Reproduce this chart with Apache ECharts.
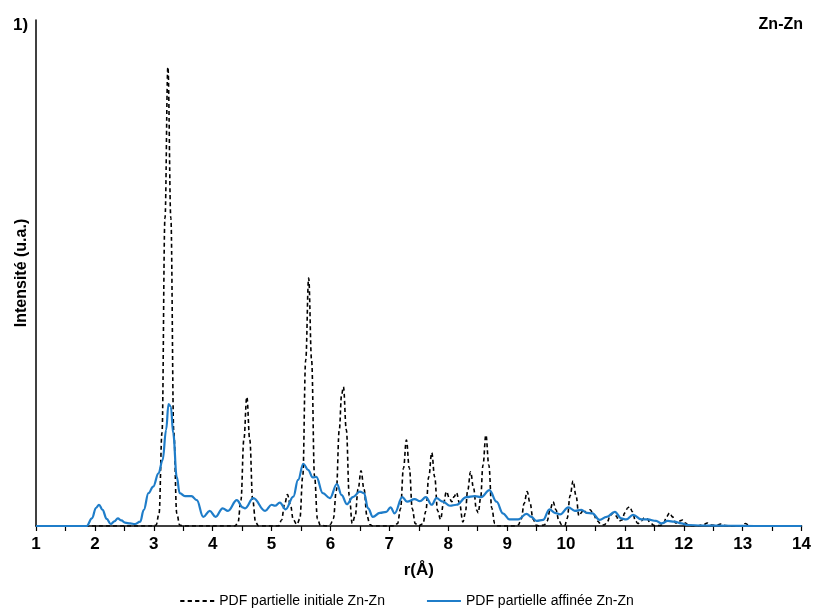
<!DOCTYPE html>
<html><head><meta charset="utf-8">
<script src="https://cdn.jsdelivr.net/npm/echarts@6/dist/echarts.min.js"></script>
<style>html,body{margin:0;padding:0;background:#fff}#c{width:814px;height:614px}</style>
</head><body><div id="c"></div>
<script>
// r (Å) ticks
const xTicks = [1,2,3,4,5,6,7,8,9,10,11,12,13,14];
// PDF partielle initiale Zn-Zn : [r, intensité]
const initialCurve = [
[1,0],[3.0,0],[3.04,0.2],[3.09,2.5],[3.14,18.5],[3.19,60.8],[3.24,90.7],[3.29,60.8],[3.34,18.5],[3.39,2.5],[3.44,0.2],[3.5,0],
[4.38,0],[4.43,0.7],[4.48,5.1],[4.53,17.1],[4.58,25.5],[4.63,17.1],[4.68,5.1],[4.73,0.7],[4.78,0],
[5.12,0],[5.17,1.2],[5.22,4.2],[5.27,6.2],[5.32,4.2],[5.37,1.2],[5.43,0.3],[5.48,1.4],[5.53,9.8],[5.58,32.8],[5.63,49.0],[5.68,32.8],[5.73,9.8],[5.78,1.4],[5.83,0.1],[5.95,0],
[6.0,0.3],[6.05,1.5],[6.1,7.0],[6.15,19.0],[6.19,26.0],[6.22,27.5],[6.27,19.0],[6.32,6.0],[6.37,0.5],[6.42,2.0],[6.47,7.3],[6.52,10.9],[6.57,7.3],[6.62,2.0],[6.67,0.3],[6.72,0],
[7.09,0],[7.14,0.5],[7.19,3.4],[7.24,11.4],[7.29,17.0],[7.34,11.4],[7.39,3.4],[7.44,0.5],[7.49,0],
[7.57,0.4],[7.62,2.9],[7.67,9.7],[7.72,14.5],[7.77,9.7],[7.82,3.0],[7.87,1.3],[7.92,4.5],[7.97,6.8],[8.02,5.5],[8.06,4.8],[8.1,5.8],[8.14,6.6],[8.19,4.6],[8.25,0.8],[8.29,2.5],[8.33,7.0],[8.38,10.7],[8.43,7.5],[8.48,3.2],[8.51,2.6],[8.55,5.5],[8.59,12.0],[8.64,18.0],[8.69,12.0],[8.74,3.5],[8.79,0.5],[8.84,0],
[9.14,0],[9.19,0.2],[9.24,1.4],[9.29,4.5],[9.34,6.8],[9.39,4.5],[9.44,1.4],[9.49,0.2],[9.54,0],
[9.63,0.2],[9.68,1.0],[9.73,3.2],[9.78,4.8],[9.83,3.2],[9.88,1.0],[9.93,0.2],[9.98,0.1],[10.02,1.5],[10.07,6.0],[10.12,8.9],[10.17,6.0],[10.22,2.0],[10.26,2.6],[10.29,3.2],[10.35,2.6],[10.41,3.2],[10.47,2.2],[10.53,1.0],[10.6,0.3],[10.65,0.2],[10.7,0.8],[10.75,2.0],[10.8,2.6],[10.85,2.0],[10.9,1.0],[10.95,1.2],[11.0,2.6],[11.05,3.6],[11.08,3.8],[11.13,2.8],[11.18,1.0],[11.22,0.5],[11.28,1.0],[11.33,1.6],[11.38,1.4],[11.43,0.6],[11.5,0.1],[11.6,0.1],[11.66,0.6],[11.71,1.9],[11.76,2.6],[11.81,1.8],[11.86,0.6],[11.9,0.6],[11.95,1.1],[11.98,1.2],[12.03,0.6],[12.08,0.1],[12.2,0],[12.33,0.2],[12.4,0.6],[12.46,0.2],[12.55,0.1],[12.63,0.4],[12.7,0.1],[12.8,0],[12.98,0],[13.05,0.5],[13.12,0],[14,0]
];
// PDF partielle affinée Zn-Zn : [r, intensité]
const refinedCurve = [
[1,0],[1.86,0],[1.95,1.5],[2.02,3.6],[2.07,4.2],[2.13,3.2],[2.2,1.4],[2.27,0.4],[2.33,0.9],[2.39,1.5],[2.45,1.1],[2.51,0.65],[2.6,0.5],[2.68,0.4],[2.77,0.85],[2.83,3.2],[2.91,6.5],[2.99,7.8],[3.08,10.4],[3.15,13.0],[3.21,19.0],[3.25,24.1],[3.29,23.6],[3.33,18.3],[3.39,9.7],[3.44,6.5],[3.53,5.9],[3.64,5.9],[3.73,5.1],[3.84,1.8],[3.95,3.0],[4.05,1.8],[4.17,3.5],[4.26,3.0],[4.41,5.1],[4.51,3.7],[4.55,3.5],[4.69,5.5],[4.89,3.0],[5.0,4.2],[5.06,4.0],[5.14,4.6],[5.24,3.3],[5.37,5.8],[5.45,9.1],[5.54,12.3],[5.62,11.1],[5.7,9.6],[5.76,9.7],[5.87,6.5],[5.99,5.5],[6.11,8.3],[6.19,6.1],[6.28,4.3],[6.38,5.7],[6.5,6.8],[6.57,6.5],[6.64,3.5],[6.72,1.8],[6.84,2.6],[6.95,2.8],[7.02,3.7],[7.09,2.5],[7.22,5.7],[7.3,4.8],[7.43,5.3],[7.52,4.9],[7.62,5.7],[7.72,4.2],[7.8,5.5],[7.91,4.8],[8.03,4.0],[8.14,4.2],[8.31,5.7],[8.45,5.9],[8.56,5.7],[8.7,7.1],[8.82,4.8],[8.93,2.5],[9.04,1.3],[9.19,1.3],[9.33,2.4],[9.41,1.8],[9.5,1.0],[9.61,1.2],[9.72,3.3],[9.81,2.6],[9.9,2.3],[10.04,3.7],[10.15,3.0],[10.26,3.2],[10.35,2.6],[10.45,2.5],[10.57,1.2],[10.69,1.8],[10.83,2.8],[10.94,1.5],[11.02,1.3],[11.14,2.2],[11.28,1.3],[11.39,1.3],[11.53,1.0],[11.62,0.5],[11.73,1.0],[11.84,0.85],[11.96,0.5],[12.07,0.2],[12.3,0.1],[12.8,0.05],[13.2,0],[14,0]
];
const seriesNames = ['PDF partielle initiale Zn-Zn','PDF partielle affinée Zn-Zn'];

const FONT = '"Liberation Sans Narrow", "Arial Narrow", "Liberation Sans", Arial, sans-serif';
const BLUE = '#1f7dc9';
const chart = echarts.init(document.getElementById('c'), null, {renderer:'canvas'});
chart.setOption({
  animation:false,
  backgroundColor:'#fff',
  textStyle:{fontFamily:FONT},
  title:[
    {text:'1)', left:8, top:12, textStyle:{fontFamily:FONT,fontSize:17,fontWeight:'bold',color:'#000'}},
    {text:'Zn-Zn', right:6, top:12, textStyle:{fontFamily:FONT,fontSize:16,fontWeight:'bold',color:'#000'}}
  ],
  grid:{left:36,right:12,top:20,bottom:88,containLabel:false},
  legend:{
    bottom:1, left:'center', itemGap:42, itemWidth:34, itemHeight:2,
    symbolKeepAspect:false,
    textStyle:{fontFamily:FONT,fontSize:14,color:'#000'},
    data:[
      {name:seriesNames[0], icon:'path://M0,0h4v1h-4z M7,0h4v1h-4z M14,0h4v1h-4z M21,0h4v1h-4z M28,0h4v1h-4z', itemStyle:{color:'#000'}},
      {name:seriesNames[1], icon:'rect', itemStyle:{color:BLUE}}
    ]
  },
  xAxis:{
    type:'value', min:xTicks[0], max:xTicks[xTicks.length-1], interval:1,
    name:'r(Å)', nameLocation:'middle', nameGap:36,
    nameTextStyle:{fontFamily:FONT,fontSize:17,fontWeight:'bold',color:'#000'},
    axisLine:{lineStyle:{color:'#000',width:1.5}},
    axisTick:{show:true,length:5,lineStyle:{color:'#000',width:1.2}},
    minorTick:{show:true,splitNumber:2,length:5,lineStyle:{color:'#000',width:1.2}},
    axisLabel:{fontFamily:FONT,fontSize:17,fontWeight:'bold',color:'#000',margin:10},
    splitLine:{show:false}
  },
  yAxis:{
    type:'value', min:0, max:100,
    name:'Intensité (u.a.)', nameLocation:'middle', nameGap:6,
    nameTextStyle:{fontFamily:FONT,fontSize:16,fontWeight:'bold',color:'#000'},
    axisLine:{show:true,lineStyle:{color:'#000',width:1.5}},
    axisTick:{show:false}, axisLabel:{show:false}, splitLine:{show:false}
  },
  series:[
    {name:seriesNames[0], type:'line', data:initialCurve, showSymbol:false, symbol:'none',
     smooth:0.4, smoothMonotone:'x',
     lineStyle:{color:'#000',width:1.6,type:[4,3]}, itemStyle:{color:'#000'}, z:3},
    {name:seriesNames[1], type:'line', data:refinedCurve, showSymbol:false, symbol:'none',
     smooth:0.4, smoothMonotone:'x',
     lineStyle:{color:BLUE,width:2.2}, itemStyle:{color:BLUE}, z:4}
  ]
});
</script></body></html>
